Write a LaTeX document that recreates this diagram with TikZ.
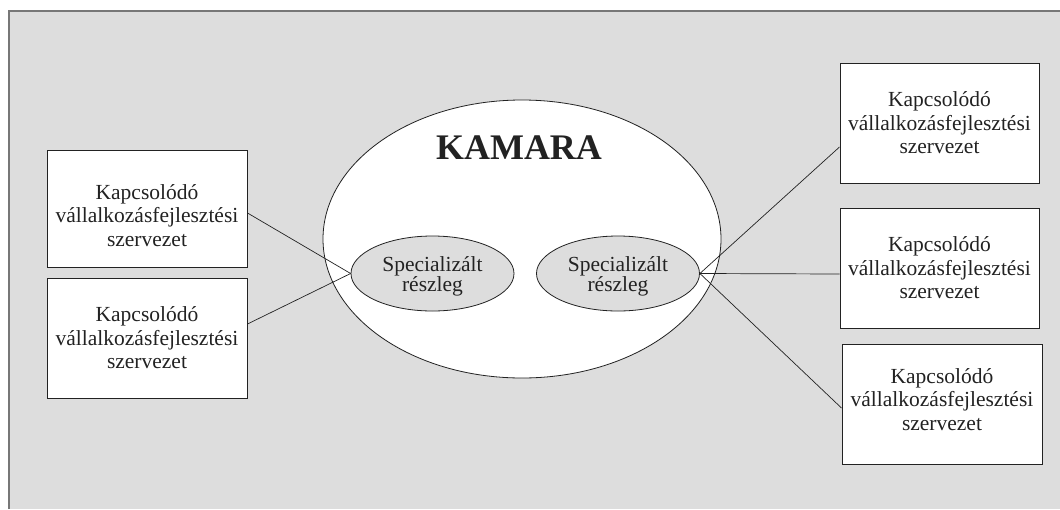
\documentclass[tikz,border=0pt]{standalone}
\usepackage{fontspec}
\setmainfont{Liberation Serif}
\usetikzlibrary{shapes.geometric}
\definecolor{panelgray}{HTML}{DDDDDD}
\definecolor{frameline}{HTML}{777777}
\definecolor{inkdark}{HTML}{222222}
% three-line organisation label; #1 = extra height above, #2 = extra depth below
\newcommand\orglabel[2]{\rule{0pt}{#1}Kapcsol\'od\'o\\v\'allalkoz\'asfejleszt\'esi\\szervezet\rule[-#2]{0pt}{0pt}}
\newcommand\deptlabel{\rule{0pt}{21pt}Specializ\'alt\\r\'eszleg}
\begin{document}
\begin{tikzpicture}[x=1pt,y=-1pt,
  orgbox/.style={draw=inkdark, line width=1pt, fill=white, rectangle,
    minimum width=200pt, minimum height=120pt, inner sep=0pt,
    align=center, text=inkdark,
    font=\fontsize{21.5}{23.5}\selectfont},
  dept/.style={draw=inkdark, line width=0.8pt, fill=panelgray, ellipse,
    minimum width=163pt, minimum height=75pt, inner sep=0pt,
    align=center, text=inkdark,
    font=\fontsize{21.5}{17.5}\selectfont},
  link/.style={draw=inkdark, line width=0.7pt}]
\useasboundingbox (0,0) rectangle (1060,509);
% background panel (open at the right and bottom)
\fill[panelgray] (9,11) rectangle (1060,509);
\draw[frameline, line width=1.4pt] (9,509) -- (9,11) -- (1060,11);

% chamber
\node[draw=inkdark, line width=0.8pt, fill=white, ellipse,
  minimum width=398pt, minimum height=278pt, inner sep=0pt] (kam) at (522,239) {};
\node[font=\bfseries\fontsize{36}{36}\selectfont, text=inkdark] (title) at (519,148) {KAMARA};

% specialised departments
\node[dept] (sl) at (432.5,273.5) {\deptlabel};
\node[dept] (sr) at (618,273.5) {\deptlabel};

% connected organisations
\node[orgbox, minimum height=117pt] (l1) at (147,208.5) {\orglabel{29pt}{0pt}};
\node[orgbox] (l2) at (147,338) {\orglabel{0pt}{0pt}};
\node[orgbox, minimum width=199pt] (r1) at (939.5,123) {\orglabel{0pt}{0pt}};
\node[orgbox, minimum width=199pt] (r2) at (939.5,268) {\orglabel{0pt}{0pt}};
\node[orgbox] (r3) at (942,404) {\orglabel{0pt}{9pt}};

% links
\draw[link] ([yshift=-4.5pt]l1.east) -- (sl.west);
\draw[link] ([yshift=14pt]l2.east) -- (sl.west);
\draw[link] (sr.east) -- ([yshift=-24pt]r1.west);
\draw[link] (sr.east) -- ([yshift=-6pt]r2.west);
\draw[link] (sr.east) -- ([yshift=-4pt]r3.west);
\end{tikzpicture}
\end{document}
